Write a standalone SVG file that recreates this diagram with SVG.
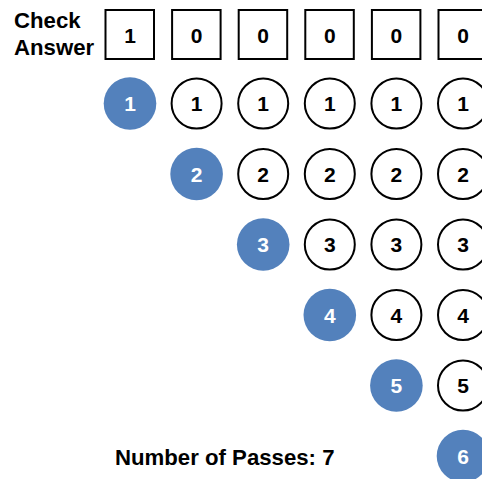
<svg xmlns="http://www.w3.org/2000/svg" width="482" height="479" viewBox="0 0 482 479">
  <style>
    text { font-family: "Liberation Sans", Arial, Helvetica, sans-serif; font-weight: bold; }
    .label { font-size: 22.2px; fill: #000; }
    .box { fill: #fff; stroke: #000; stroke-width: 2; }
    .ring { fill: #fff; stroke: #000; stroke-width: 2; }
    .done { fill: #5381BC; }
    .digit { font-size: 21px; text-anchor: middle; fill: #000; }
    .digit.light { fill: #fff; }
  </style>
  <rect width="482" height="479" fill="#fff"/>

  <!-- header -->
  <g id="check-answer">
    <text class="label" x="14" y="28">Check</text>
    <text class="label" x="14" y="55">Answer</text>
  </g>

  <!-- answer boxes -->
  <g id="answer">
    <g id="box-1"><rect class="box" x="105.5" y="10" width="48.5" height="49"/><text class="digit" x="130" y="42.5">1</text></g>
    <g id="box-2"><rect class="box" x="172.1" y="10" width="48.5" height="49"/><text class="digit" x="196.6" y="42.5">0</text></g>
    <g id="box-3"><rect class="box" x="238.7" y="10" width="48.5" height="49"/><text class="digit" x="263.2" y="42.5">0</text></g>
    <g id="box-4"><rect class="box" x="305.3" y="10" width="48.5" height="49"/><text class="digit" x="329.8" y="42.5">0</text></g>
    <g id="box-5"><rect class="box" x="371.9" y="10" width="48.5" height="49"/><text class="digit" x="396.4" y="42.5">0</text></g>
    <g id="box-6"><rect class="box" x="438.5" y="10" width="48.5" height="49"/><text class="digit" x="463" y="42.5">0</text></g>
  </g>

  <!-- pass 1 -->
  <g id="row-1">
    <g id="p1-c1"><circle class="done" cx="130" cy="103.5" r="26.3"/><text class="digit light" x="130" y="111.3">1</text></g>
    <g id="p1-c2"><circle class="ring" cx="196.6" cy="103.5" r="25"/><text class="digit" x="196.6" y="111.3">1</text></g>
    <g id="p1-c3"><circle class="ring" cx="263.2" cy="103.5" r="25"/><text class="digit" x="263.2" y="111.3">1</text></g>
    <g id="p1-c4"><circle class="ring" cx="329.8" cy="103.5" r="25"/><text class="digit" x="329.8" y="111.3">1</text></g>
    <g id="p1-c5"><circle class="ring" cx="396.4" cy="103.5" r="25"/><text class="digit" x="396.4" y="111.3">1</text></g>
    <g id="p1-c6"><circle class="ring" cx="463" cy="103.5" r="25"/><text class="digit" x="463" y="111.3">1</text></g>
  </g>

  <!-- pass 2 -->
  <g id="row-2">
    <g id="p2-c2"><circle class="done" cx="196.6" cy="174" r="26.3"/><text class="digit light" x="196.6" y="181.8">2</text></g>
    <g id="p2-c3"><circle class="ring" cx="263.2" cy="174" r="25"/><text class="digit" x="263.2" y="181.8">2</text></g>
    <g id="p2-c4"><circle class="ring" cx="329.8" cy="174" r="25"/><text class="digit" x="329.8" y="181.8">2</text></g>
    <g id="p2-c5"><circle class="ring" cx="396.4" cy="174" r="25"/><text class="digit" x="396.4" y="181.8">2</text></g>
    <g id="p2-c6"><circle class="ring" cx="463" cy="174" r="25"/><text class="digit" x="463" y="181.8">2</text></g>
  </g>

  <!-- pass 3 -->
  <g id="row-3">
    <g id="p3-c3"><circle class="done" cx="263.2" cy="244.5" r="26.3"/><text class="digit light" x="263.2" y="252.3">3</text></g>
    <g id="p3-c4"><circle class="ring" cx="329.8" cy="244.5" r="25"/><text class="digit" x="329.8" y="252.3">3</text></g>
    <g id="p3-c5"><circle class="ring" cx="396.4" cy="244.5" r="25"/><text class="digit" x="396.4" y="252.3">3</text></g>
    <g id="p3-c6"><circle class="ring" cx="463" cy="244.5" r="25"/><text class="digit" x="463" y="252.3">3</text></g>
  </g>

  <!-- pass 4 -->
  <g id="row-4">
    <g id="p4-c4"><circle class="done" cx="329.8" cy="315" r="26.3"/><text class="digit light" x="329.8" y="322.8">4</text></g>
    <g id="p4-c5"><circle class="ring" cx="396.4" cy="315" r="25"/><text class="digit" x="396.4" y="322.8">4</text></g>
    <g id="p4-c6"><circle class="ring" cx="463" cy="315" r="25"/><text class="digit" x="463" y="322.8">4</text></g>
  </g>

  <!-- pass 5 -->
  <g id="row-5">
    <g id="p5-c5"><circle class="done" cx="396.4" cy="385.5" r="26.3"/><text class="digit light" x="396.4" y="393.3">5</text></g>
    <g id="p5-c6"><circle class="ring" cx="463" cy="385.5" r="25"/><text class="digit" x="463" y="393.3">5</text></g>
  </g>

  <!-- pass 6 -->
  <g id="row-6">
    <g id="p6-c6"><circle class="done" cx="463" cy="456" r="26.3"/><text class="digit light" x="463" y="463.8">6</text></g>
  </g>

  <g id="passes">
    <text class="label" x="115" y="464.5">Number of Passes: 7</text>
  </g>

  <g id="connectors"/>
</svg>
